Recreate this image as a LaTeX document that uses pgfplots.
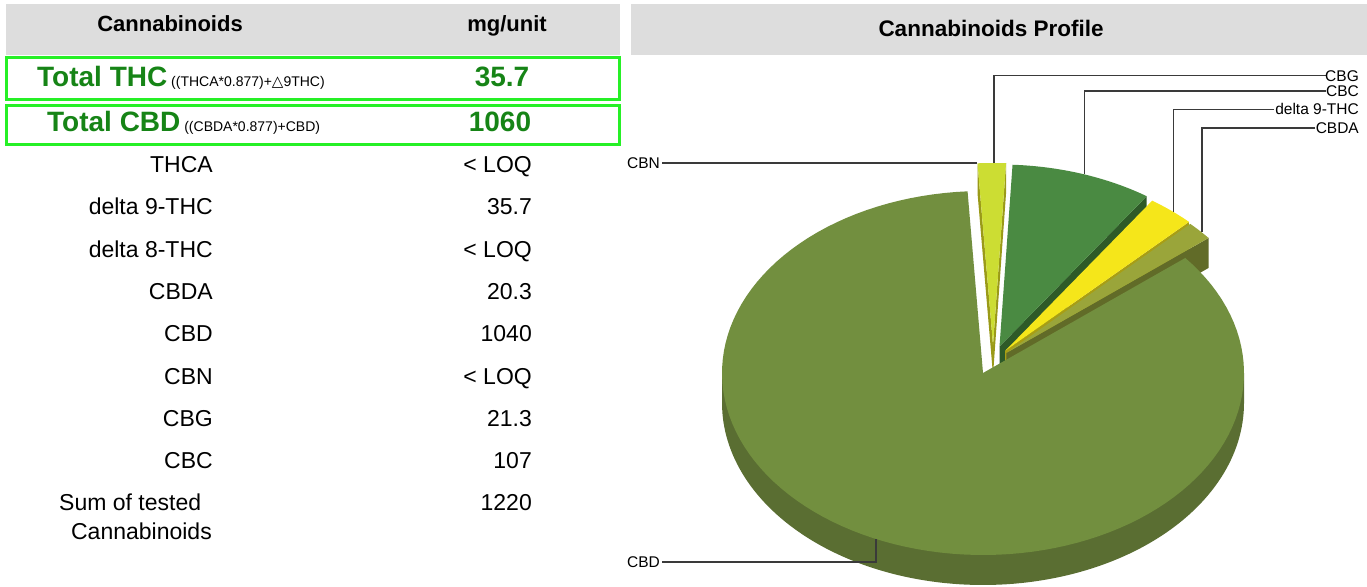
\documentclass[border=0pt]{standalone}
\usepackage{pgfplots}
\pgfplotsset{compat=1.18}
\usepackage{pgfplotstable}
\usepackage{fontspec}
\setmainfont{Liberation Sans}
\newfontfamily\dejavu{DejaVu Sans}

\definecolor{hdr}{HTML}{DDDDDD}
\definecolor{boxg}{HTML}{26F026}
\definecolor{txtg}{HTML}{168416}
\definecolor{cbdtop}{HTML}{728F3F}
\definecolor{cbdside}{HTML}{5A6E32}
\definecolor{cbctop}{HTML}{4A8A42}
\definecolor{cbcface}{HTML}{2E5A28}
\definecolor{cbgtop}{HTML}{CCDD33}
\definecolor{cbgface}{HTML}{9A9A18}
\definecolor{dtop}{HTML}{F5E61A}
\definecolor{dface}{HTML}{A89E14}
\definecolor{atop}{HTML}{9AA53A}
\definecolor{aface}{HTML}{616B28}
\definecolor{lead}{HTML}{3A3A3A}

% pie data (clockwise from the top)
\pgfplotstableread{
name value
CBG 21.3
CBC 107
d9THC 35.7
CBDA 20.3
CBD 1040
CBN 0
}\piedata

\newcommand\tfont{\fontsize{23}{27}\selectfont}
\newcommand\lfont{\fontsize{15.5}{18}\selectfont}

% top face of a slice: centre, angle from, angle to, colour
\newcommand\pieWedge[5]{%
  \addplot[fill=#5, draw=none, domain=#3:#4, samples=120]
    ({#1+261*cos(x)},{#2-182*sin(x)}) -- (axis cs:#1,#2) -- cycle;
}
% radial side face of a slice: centre, angle, colour
\newcommand\pieFace[4]{%
  \pgfmathsetmacro\fx{#1+261*cos(#3)}%
  \pgfmathsetmacro\fy{#2-182*sin(#3)}%
  \pgfmathsetmacro\fyb{\fy+30}%
  \pgfmathsetmacro\cyb{#2+30}%
  \edef\tmp{\noexpand\addplot[fill=#4, draw=none] coordinates {(#1,#2) (\fx,\fy) (\fx,\fyb) (#1,\cyb)} -- cycle;}%
  \tmp
}

\begin{document}
\begin{tikzpicture}
\pgfplotstablegetelem{0}{value}\of\piedata \let\vA\pgfplotsretval
\pgfplotstablegetelem{1}{value}\of\piedata \let\vB\pgfplotsretval
\pgfplotstablegetelem{2}{value}\of\piedata \let\vC\pgfplotsretval
\pgfplotstablegetelem{3}{value}\of\piedata \let\vD\pgfplotsretval
\pgfplotstablegetelem{4}{value}\of\piedata \let\vE\pgfplotsretval
\pgfplotstablegetelem{5}{value}\of\piedata \let\vF\pgfplotsretval
\pgfmathsetmacro\tot{\vA+\vB+\vC+\vD+\vE+\vF}
\pgfmathsetmacro\aA{93.4}
\pgfmathsetmacro\aB{\aA-360*(\vA/\tot)}
\pgfmathsetmacro\aC{\aB-360*(\vB/\tot)}
\pgfmathsetmacro\aD{\aC-360*(\vC/\tot)}
\pgfmathsetmacro\aE{\aD-360*(\vD/\tot)}
\pgfmathsetmacro\aF{\aE-360*(\vE/\tot)}
\begin{axis}[
  width=1367pt, height=586pt, scale only axis,
  xmin=0, xmax=1367, ymin=0, ymax=586, y dir=reverse,
  hide axis, clip=false,
]
% background and header bands
\addplot[fill=white, draw=none] coordinates {(0,0) (1367,0) (1367,586) (0,586)} -- cycle;
\addplot[fill=hdr, draw=none] coordinates {(6,4) (620,4) (620,55) (6,55)} -- cycle;
\addplot[fill=hdr, draw=none] coordinates {(631,4) (1367,4) (1367,55) (631,55)} -- cycle;
% green boxes
\addplot[draw=boxg, line width=3pt] coordinates {(6.5,57.5) (619,57.5) (619,99.5) (6.5,99.5)} -- cycle;
\addplot[draw=boxg, line width=3pt] coordinates {(6.5,105.8) (619,105.8) (619,144.2) (6.5,144.2)} -- cycle;

% headers
\node[anchor=base, inner sep=0, font=\fontsize{22}{26}\selectfont\bfseries] at (axis cs:170,32) {Cannabinoids};
\node[anchor=base, inner sep=0, font=\fontsize{22}{26}\selectfont\bfseries] at (axis cs:507,32) {mg/unit};
\node[anchor=base, inner sep=0, font=\fontsize{22.5}{26}\selectfont\bfseries] at (axis cs:991,37) {Cannabinoids Profile};

% totals
\node[anchor=base west, inner sep=0, font=\fontsize{14}{16}\selectfont] at (axis cs:37,86)
  {\textcolor{txtg}{\fontsize{28}{32}\selectfont\bfseries Total THC} ((THCA*0.877)+{\dejavu\fontsize{15}{16}\selectfont △}9THC)};
\node[anchor=base, inner sep=0, font=\fontsize{28}{32}\selectfont\bfseries, text=txtg] at (axis cs:502,86) {35.7};
\node[anchor=base west, inner sep=0, font=\fontsize{14}{16}\selectfont] at (axis cs:47,131)
  {\textcolor{txtg}{\fontsize{28}{32}\selectfont\bfseries Total CBD} ((CBDA*0.877)+CBD)};
\node[anchor=base, inner sep=0, font=\fontsize{28}{32}\selectfont\bfseries, text=txtg] at (axis cs:500,131) {1060};

% table rows
\node[anchor=base east, inner sep=0, font=\tfont] at (axis cs:213,172.6) {THCA};
\node[anchor=base east, inner sep=0, font=\tfont] at (axis cs:532,172.6) {< LOQ};
\node[anchor=base east, inner sep=0, font=\tfont] at (axis cs:213,214.9) {delta 9-THC};
\node[anchor=base east, inner sep=0, font=\tfont] at (axis cs:532,214.9) {35.7};
\node[anchor=base east, inner sep=0, font=\tfont] at (axis cs:213,257.1) {delta 8-THC};
\node[anchor=base east, inner sep=0, font=\tfont] at (axis cs:532,257.1) {< LOQ};
\node[anchor=base east, inner sep=0, font=\tfont] at (axis cs:213,299.4) {CBDA};
\node[anchor=base east, inner sep=0, font=\tfont] at (axis cs:532,299.4) {20.3};
\node[anchor=base east, inner sep=0, font=\tfont] at (axis cs:213,341.7) {CBD};
\node[anchor=base east, inner sep=0, font=\tfont] at (axis cs:532,341.7) {1040};
\node[anchor=base east, inner sep=0, font=\tfont] at (axis cs:213,384) {CBN};
\node[anchor=base east, inner sep=0, font=\tfont] at (axis cs:532,384) {< LOQ};
\node[anchor=base east, inner sep=0, font=\tfont] at (axis cs:213,426.3) {CBG};
\node[anchor=base east, inner sep=0, font=\tfont] at (axis cs:532,426.3) {21.3};
\node[anchor=base east, inner sep=0, font=\tfont] at (axis cs:213,468.6) {CBC};
\node[anchor=base east, inner sep=0, font=\tfont] at (axis cs:532,468.6) {107};
\node[anchor=base west, inner sep=0, font=\tfont] at (axis cs:59,510.9) {Sum of tested};
\node[anchor=base east, inner sep=0, font=\tfont] at (axis cs:532,510.9) {1220};
\node[anchor=base east, inner sep=0, font=\tfont] at (axis cs:212,539.5) {Cannabinoids};

% ---- pie ----
% front side of the big slice
\addplot[fill=cbdside, draw=none, domain=180:360, samples=120]
  ({983+261*cos(x)},{403-182*sin(x)}) -- (axis cs:1244,373) -- (axis cs:722,373) -- cycle;
% exploded slices, back to front
\pieFace{993}{345}{\aA}{cbgface}
\pieFace{993}{345}{\aB}{cbgface}
\pieWedge{993}{345}{\aB}{\aA}{cbgtop}
\pieFace{999.5}{346.5}{\aC}{cbcface}
\pieWedge{999.5}{346.5}{\aC}{\aB}{cbctop}
\pieFace{1005}{351}{\aD}{dface}
\pieWedge{1005}{351}{\aD}{\aC}{dtop}
\pieFace{1006.3}{353}{\aE}{aface}
\pieWedge{1006.3}{353}{\aE}{\aD}{atop}
% big slice top
\pieWedge{983}{373}{\aF}{\aE}{cbdtop}

% leader lines and labels
\addplot[draw=lead, line width=1.2pt] coordinates {(1326,75.7) (994,75.7) (994,163)};
\addplot[draw=lead, line width=1.2pt] coordinates {(1326,91) (1084.6,91) (1084.6,174)};
\addplot[draw=lead, line width=1.2pt] coordinates {(1274,109.3) (1173.6,109.3) (1173.6,212)};
\addplot[draw=lead, line width=1.2pt] coordinates {(1315,128) (1202,128) (1202,232)};
\addplot[draw=lead, line width=1.2pt] coordinates {(662,163) (976.5,163)};
\addplot[draw=lead, line width=1.2pt] coordinates {(662,562) (876,562) (876,539)};
\node[anchor=base east, inner sep=0, font=\lfont] at (axis cs:1359,81.2) {CBG};
\node[anchor=base east, inner sep=0, font=\lfont] at (axis cs:1359,96.5) {CBC};
\node[anchor=base east, inner sep=0, font=\lfont] at (axis cs:1359,114.8) {delta 9-THC};
\node[anchor=base east, inner sep=0, font=\lfont] at (axis cs:1359,133.5) {CBDA};
\node[anchor=base east, inner sep=0, font=\lfont] at (axis cs:660,168.5) {CBN};
\node[anchor=base east, inner sep=0, font=\lfont] at (axis cs:660,567.5) {CBD};
\end{axis}
\end{tikzpicture}
\end{document}
